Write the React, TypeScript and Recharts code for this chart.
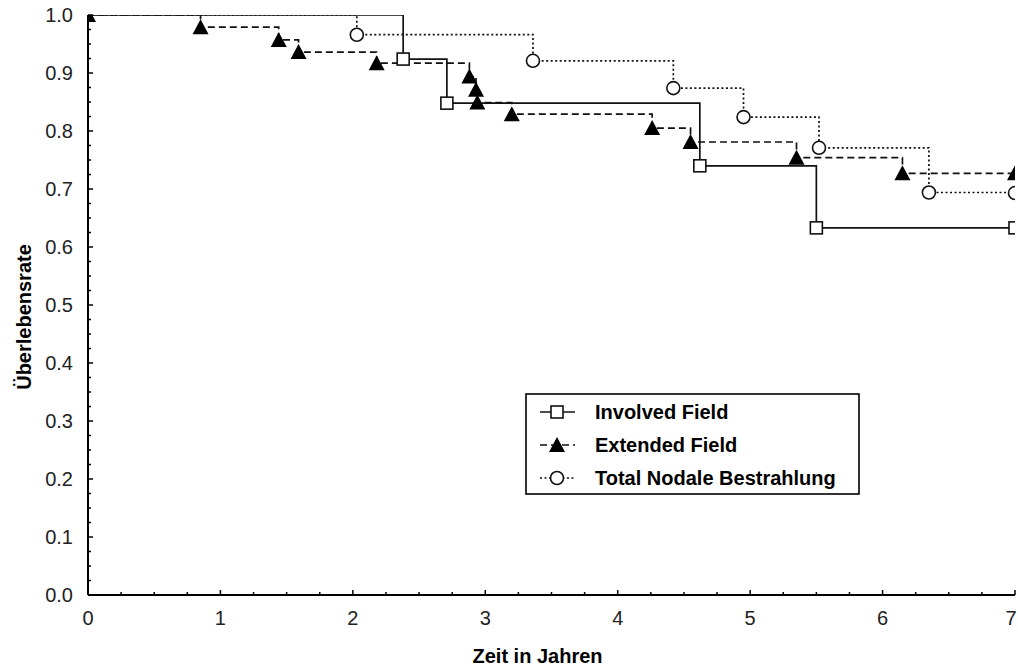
import React from 'react';
import { LineChart, Line, XAxis, YAxis, Legend } from 'recharts';

const seriesNames = ['Involved Field', 'Extended Field', 'Total Nodale Bestrahlung'];

const involvedTimes = [0, 2.38, 2.71, 4.62, 5.5, 7];
const involvedSurvival = [1.0, 0.924, 0.848, 0.74, 0.633, 0.633];

const extendedTimes = [0, 0.85, 1.44, 1.59, 2.18, 2.88, 2.93, 2.94, 3.2, 4.26, 4.55, 5.35, 6.15, 7];
const extendedSurvival = [1.0, 0.979, 0.957, 0.936, 0.917, 0.894, 0.871, 0.849, 0.829, 0.805, 0.781, 0.754, 0.727, 0.727];

const totalTimes = [0, 2.03, 3.36, 4.42, 4.95, 5.52, 6.35, 7];
const totalSurvival = [1.0, 0.966, 0.921, 0.874, 0.824, 0.771, 0.694, 0.693];

const xMajorTicks = [0, 1, 2, 3, 4, 5, 6, 7];
const yMajorTicks = [0, 0.1, 0.2, 0.3, 0.4, 0.5, 0.6, 0.7, 0.8, 0.9, 1.0];

const subdivide = (majors: number[], parts: number) => {
  const out: number[] = [];
  for (let i = 0; i < majors.length; i++) {
    out.push(majors[i]);
    if (i < majors.length - 1) {
      const step = (majors[i + 1] - majors[i]) / parts;
      for (let k = 1; k < parts; k++) out.push(majors[i] + k * step);
    }
  }
  return out;
};
const xTicks = subdivide(xMajorTicks, 4);
const yTicks = subdivide(yMajorTicks, 4);

const toData = (ts: number[], ss: number[]) => ts.map((t, i) => ({ t, s: ss[i] }));
const involvedData = toData(involvedTimes, involvedSurvival);
const extendedData = toData(extendedTimes, extendedSurvival);
const totalData = toData(totalTimes, totalSurvival);

const CHART_W = 1018;
const CHART_H = 669;
const MARGIN = { top: 15, right: 3, bottom: 0, left: 0 };
const Y_AXIS_W = 88;
const X_AXIS_H = 74;
const PLOT = {
  left: MARGIN.left + Y_AXIS_W,
  top: MARGIN.top,
  right: CHART_W - MARGIN.right,
  bottom: CHART_H - MARGIN.bottom - X_AXIS_H,
};

const FONT = '"Liberation Sans", Arial, sans-serif';
const INK = '#111';

const isMajor = (v: number, majors: number[]) => majors.some((m) => Math.abs(m - v) < 1e-6);

const BottomTick = (props: any) => {
  const { x, y, payload } = props;
  const major = isMajor(payload.value, xMajorTicks);
  const lx = Math.min(x, CHART_W - 7);
  return (
    <g>
      <line x1={x} x2={x} y1={y} y2={y - (major ? 5 : 3)} stroke="#000" strokeWidth={1.5} />
      {major && (
        <text x={lx} y={y + 23} textAnchor="middle" dominantBaseline="central" fontFamily={FONT} fontSize={20} fill="#222">
          {String(Math.round(payload.value))}
        </text>
      )}
    </g>
  );
};
const TopTick = (props: any) => {
  const { x, y, payload } = props;
  const major = isMajor(payload.value, xMajorTicks);
  return <line x1={x} x2={x} y1={y} y2={y + (major ? 5 : 3)} stroke="#000" strokeWidth={1.5} />;
};
const LeftTick = (props: any) => {
  const { x, y, payload } = props;
  const major = isMajor(payload.value, yMajorTicks);
  return (
    <g>
      <line x1={x} x2={x + (major ? 5 : 3)} y1={y} y2={y} stroke="#000" strokeWidth={1.5} />
      {major && (
        <text x={x - 15} y={y} textAnchor="end" dominantBaseline="central" fontFamily={FONT} fontSize={20} fill="#222">
          {payload.value.toFixed(1)}
        </text>
      )}
    </g>
  );
};
const RightTick = (props: any) => {
  const { x, y, payload } = props;
  const major = isMajor(payload.value, yMajorTicks);
  return <line x1={x} x2={x - (major ? 5 : 3)} y1={y} y2={y} stroke="#000" strokeWidth={1.5} />;
};

const Square = ({ cx, cy }: { cx: number; cy: number }) => (
  <rect x={cx - 6} y={cy - 6} width={12} height={12} fill="#fff" stroke={INK} strokeWidth={1.6} />
);
const Triangle = ({ cx, cy }: { cx: number; cy: number }) => (
  <polygon points={`${cx},${cy - 8} ${cx - 8},${cy + 7} ${cx + 8},${cy + 7}`} fill="#000" />
);
const Circle = ({ cx, cy }: { cx: number; cy: number }) => (
  <circle cx={cx} cy={cy} r={6.5} fill="#fff" stroke={INK} strokeWidth={1.6} />
);

const makeDot = (Shape: any, skipFirst: boolean, tag: string) => (props: any) => {
  const { cx, cy, index } = props;
  if ((skipFirst && index === 0) || cx == null || cy == null) return <g key={`d-${tag}-${index}`} />;
  const id = `clip-${tag}-${index}`;
  return (
    <g key={`d-${tag}-${index}`}>
      <defs>
        <clipPath id={id}>
          <rect x={PLOT.left} y={PLOT.top} width={PLOT.right - PLOT.left} height={PLOT.bottom - PLOT.top} />
        </clipPath>
      </defs>
      <g clipPath={`url(#${id})`}>
        <Shape cx={cx} cy={cy} />
      </g>
    </g>
  );
};

const dashes = ['', '7 4', '2 2.5'];
const markers = [Square, Triangle, Circle];

const LegendBox = () => {
  const rows = [19, 52, 85];
  return (
    <svg width={336} height={103} style={{ display: 'block' }}>
      <rect x={1} y={1} width={333} height={100} fill="#fff" stroke="#000" strokeWidth={1.6} />
      {seriesNames.map((name, i) => {
        const M = markers[i];
        return (
          <g key={name}>
            <line x1={15} x2={50} y1={rows[i]} y2={rows[i]} stroke={INK} strokeWidth={1.6} strokeDasharray={dashes[i] || undefined} />
            <M cx={32} cy={rows[i]} />
            <text x={70} y={rows[i]} dominantBaseline="central" fontFamily={FONT} fontWeight="bold" fontSize={20} fill="#000">
              {name}
            </text>
          </g>
        );
      })}
    </svg>
  );
};

const YTitle = (props: any) => {
  const vb = props.viewBox || { x: 0, y: 15, width: 88, height: 580 };
  const cx = vb.x + 24;
  const cy = vb.y + vb.height / 2 + 12;
  return (
    <text x={cx} y={cy} transform={`rotate(-90, ${cx}, ${cy})`} textAnchor="middle" dominantBaseline="central" fontFamily={FONT} fontWeight="bold" fontSize={20} fill="#000">
      Überlebensrate
    </text>
  );
};
const XTitle = (props: any) => {
  const vb = props.viewBox || { x: 88, y: 595, width: 927, height: 74 };
  const cx = vb.x + vb.width / 2 - 14;
  const cy = vb.y + 61;
  return (
    <text x={cx} y={cy} textAnchor="middle" dominantBaseline="central" fontFamily={FONT} fontWeight="bold" fontSize={20} fill="#000">
      Zeit in Jahren
    </text>
  );
};

export default function App() {
  return (
    <div style={{ position: 'fixed', left: 0, top: 0, width: CHART_W, height: CHART_H, background: '#fff' }}>
      <LineChart width={CHART_W} height={CHART_H} margin={MARGIN}>
        <XAxis
          xAxisId="bottom"
          dataKey="t"
          type="number"
          domain={[0, 7]}
          allowDataOverflow
          ticks={xTicks}
          interval={0}
          height={X_AXIS_H}
          tickSize={0}
          tickMargin={0}
          tickLine={false}
          tick={<BottomTick />}
          axisLine={{ stroke: '#000', strokeWidth: 2 }}
          label={<XTitle />}
        />
        <XAxis
          xAxisId="top"
          orientation="top"
          dataKey="t"
          type="number"
          domain={[0, 7]}
          allowDataOverflow
          ticks={xTicks}
          interval={0}
          height={0}
          tickSize={0}
          tickMargin={0}
          tickLine={false}
          tick={<TopTick />}
          axisLine={{ stroke: '#000', strokeWidth: 2 }}
        />
        <YAxis
          yAxisId="left"
          type="number"
          domain={[0, 1]}
          allowDataOverflow
          ticks={yTicks}
          interval={0}
          width={Y_AXIS_W}
          tickSize={0}
          tickMargin={0}
          tickLine={false}
          tick={<LeftTick />}
          axisLine={{ stroke: '#000', strokeWidth: 2 }}
          label={<YTitle />}
        />
        <YAxis
          yAxisId="right"
          orientation="right"
          type="number"
          domain={[0, 1]}
          allowDataOverflow
          ticks={yTicks}
          interval={0}
          width={0}
          tickSize={0}
          tickMargin={0}
          tickLine={false}
          tick={<RightTick />}
          axisLine={{ stroke: '#000', strokeWidth: 2 }}
        />
        <Line
          xAxisId="bottom"
          yAxisId="left"
          data={involvedData}
          dataKey="s"
          name={seriesNames[0]}
          type="stepAfter"
          stroke={INK}
          strokeWidth={1.7}
          dot={makeDot(Square, true, 'inv')}
          activeDot={false}
          isAnimationActive={false}
        />
        <Line
          xAxisId="bottom"
          yAxisId="left"
          data={extendedData}
          dataKey="s"
          name={seriesNames[1]}
          type="stepAfter"
          stroke={INK}
          strokeWidth={1.7}
          strokeDasharray="7 4"
          dot={makeDot(Triangle, false, 'ext')}
          activeDot={false}
          isAnimationActive={false}
        />
        <Line
          xAxisId="bottom"
          yAxisId="left"
          data={totalData}
          dataKey="s"
          name={seriesNames[2]}
          type="stepAfter"
          stroke={INK}
          strokeWidth={1.7}
          strokeDasharray="2 2.5"
          dot={makeDot(Circle, true, 'tot')}
          activeDot={false}
          isAnimationActive={false}
        />
        <Legend
          layout="vertical"
          align="center"
          verticalAlign="middle"
          content={<LegendBox />}
          wrapperStyle={{ position: 'absolute', left: 525, top: 393, width: 336, height: 103 }}
        />
      </LineChart>
    </div>
  );
}
